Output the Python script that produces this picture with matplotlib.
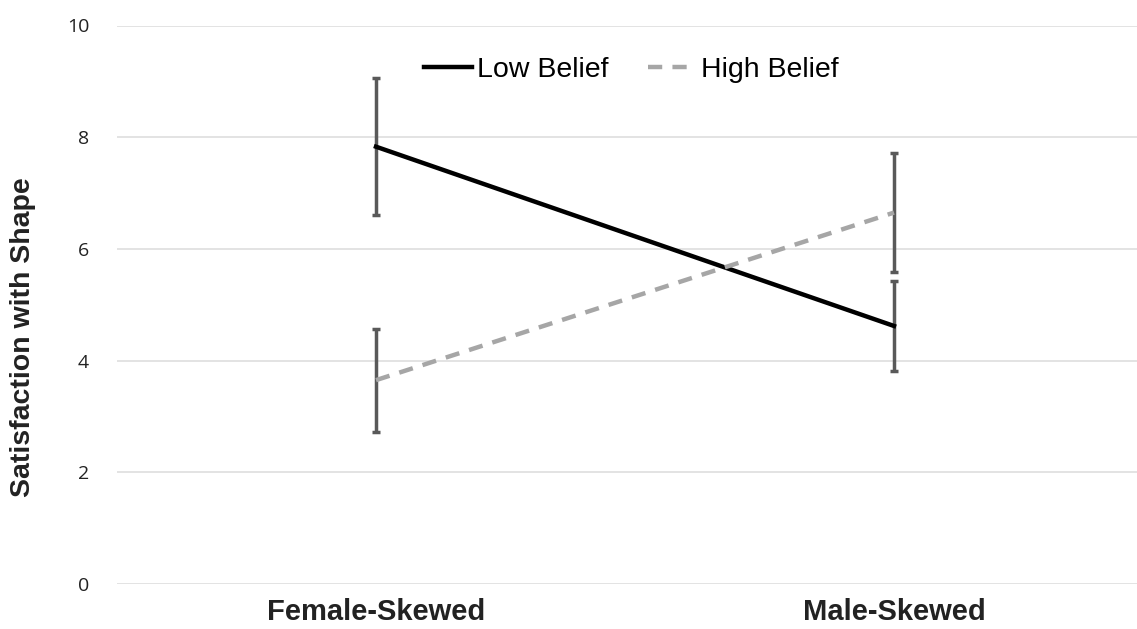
import matplotlib
matplotlib.use('Agg')
import matplotlib.pyplot as plt
from matplotlib.lines import Line2D

# data
categories = ['Female-Skewed', 'Male-Skewed']
low_belief = [7.83, 4.62]
low_err = [1.23, 0.80]
high_belief = [3.65, 6.65]
high_err = [0.92, 1.07]
y_ticks = [0, 2, 4, 6, 8, 10]

fig = plt.figure(figsize=(11.37, 6.29), dpi=100)
ax = fig.add_axes([117 / 1137, 1 - 584 / 629, 1 - 117 / 1137, (584 - 25.5) / 629])

x = list(range(len(categories)))
dash = (0, (3.2, 2.3))

ax.errorbar(x, low_belief, yerr=low_err, color='black', lw=3.2,
            ecolor='#595959', elinewidth=2.5, capsize=3, capthick=2.5,
            zorder=3)
ax.errorbar(x, high_belief, yerr=high_err, color='#a6a6a6', lw=3.2,
            linestyle=dash, ecolor='#595959', elinewidth=2.5,
            capsize=3, capthick=2.5, zorder=3)

ax.set_ylim(0, 10)
ax.set_xlim(-0.5, 1.5 - 16 / 518)
ax.set_yticks(y_ticks)
ax.set_yticklabels([str(t) for t in y_ticks], fontfamily='Open Sans',
                   fontsize=14, color='#222222')
ax.set_xticks(x)
ax.set_xticklabels(categories, fontfamily='Liberation Sans', fontweight='bold',
                   fontsize=21, color='#222222')
ax.tick_params(axis='y', length=0, pad=20)
ax.tick_params(axis='x', length=0, pad=10)
ax.grid(axis='y', color='#dedede', lw=1.2)
ax.set_axisbelow(True)
for s in ax.spines.values():
    s.set_visible(False)

fig.text(23 / 1137, 1 - 337 / 629, 'Satisfaction with Shape', rotation=90,
         ha='center', va='center', fontfamily='Liberation Sans',
         fontweight='bold', fontsize=20.5, color='#222222')

handles = [Line2D([], [], color='black', lw=3.2),
           Line2D([], [], color='#a6a6a6', lw=3.2, linestyle=dash)]
ax.legend(handles, ['Low Belief', 'High Belief'], loc='center',
          bbox_to_anchor=(631 / 1137, 1 - 70 / 629),
          bbox_transform=fig.transFigure, ncol=2, frameon=False,
          prop={'family': 'Liberation Sans', 'size': 20.5},
          handlelength=1.7, handletextpad=0.15, columnspacing=1.4)

fig.savefig('out.png', dpi=100, facecolor='white')
